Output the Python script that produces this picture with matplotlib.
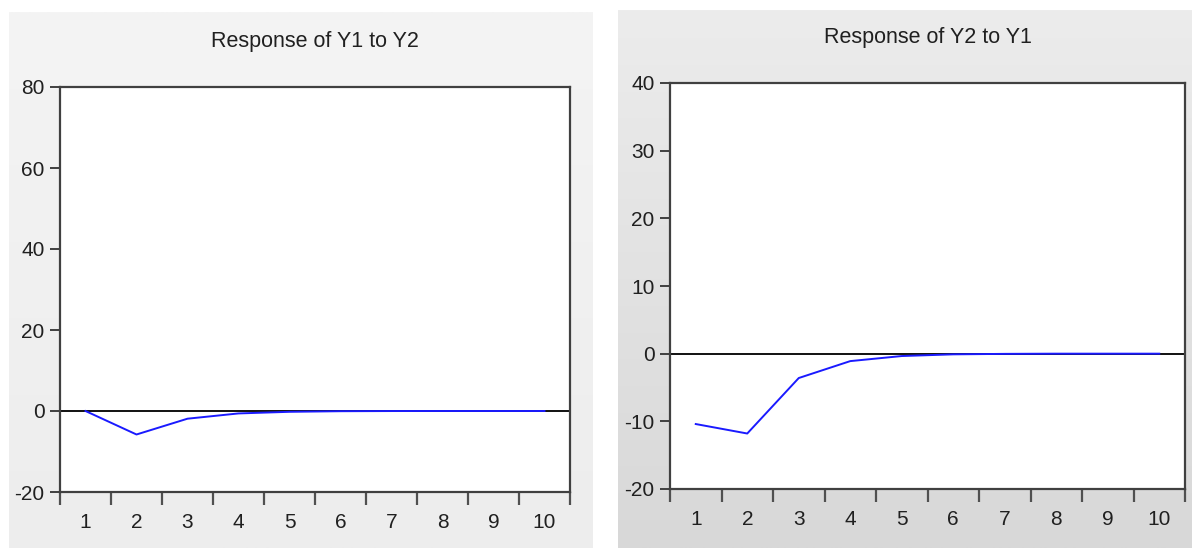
import numpy as np
import matplotlib
matplotlib.use("Agg")
import matplotlib.pyplot as plt
from matplotlib import font_manager

periods = [1, 2, 3, 4, 5, 6, 7, 8, 9, 10]
y1_to_y2 = [0.0, -5.8, -1.9, -0.6, -0.2, -0.05, -0.01, 0.0, 0.0, 0.0]
y2_to_y1 = [-10.4, -11.8, -3.6, -1.1, -0.35, -0.1, -0.03, 0.0, 0.0, 0.0]
titles = ["Response of Y1 to Y2", "Response of Y2 to Y1"]
yticks_left = [-20, 0, 20, 40, 60, 80]
yticks_right = [-20, -10, 0, 10, 20, 30, 40]

names = {f.name for f in font_manager.fontManager.ttflist}
fam = ["Liberation Sans Narrow", "Liberation Sans", "DejaVu Sans"]
fam = [f for f in fam if f in names] or ["DejaVu Sans"]
plt.rcParams['font.family'] = fam

W, H = 1192, 548
fig = plt.figure(figsize=(W / 100, H / 100), dpi=100)
fig.patch.set_facecolor("white")


def px_rect(x0, y0, x1, y1):
    return [x0 / W, 1 - y1 / H, (x1 - x0) / W, (y1 - y0) / H]


def panel_bg(rect, top, bottom):
    ax = fig.add_axes(px_rect(*rect), zorder=0)
    grad = np.linspace(0, 1, 256)[:, None]
    c0 = np.array(matplotlib.colors.to_rgb(top))
    c1 = np.array(matplotlib.colors.to_rgb(bottom))
    img = c0[None, None, :] * (1 - grad[:, :, None]) + c1[None, None, :] * grad[:, :, None]
    ax.imshow(img, aspect="auto", extent=[0, 1, 0, 1], origin="upper")
    ax.set_axis_off()


panel_bg((9, 12, 593, 548), "#f4f4f4", "#ededed")
panel_bg((618, 10, 1192, 548), "#ececec", "#d8d8d8")

specs = [
    (px_rect(60, 87, 570, 492), y1_to_y2, yticks_left, (-20, 80), titles[0], 41),
    (px_rect(670, 83, 1185, 489), y2_to_y1, yticks_right, (-20, 40), titles[1], 37),
]

for rect, vals, yt, ylim, title, ty in specs:
    ax = fig.add_axes(rect, zorder=2)
    ax.set_facecolor("white")
    ax.axhline(0, color="#101010", lw=1.4, zorder=2)
    ax.plot(periods, vals, color="#1a1aff", lw=1.4, zorder=3)
    ax.set_xlim(0.5, 10.5)
    ax.set_ylim(*ylim)
    ax.set_yticks(yt)
    ax.set_yticklabels([str(v) for v in yt])
    ax.set_xticks([p - 0.5 for p in periods] + [10.5])
    ax.set_xticklabels([])
    ax.set_xticks(periods, minor=True)
    ax.set_xticklabels([str(p) for p in periods], minor=True)
    ax.tick_params(axis="x", which="major", direction="out", length=9, width=1.6, color="#505050")
    ax.tick_params(axis="x", which="minor", length=0, pad=15, labelsize=15, labelcolor="#202020")
    ax.tick_params(axis="y", direction="out", length=7, width=1.4, color="#404040", pad=4,
                   labelsize=15, labelcolor="#202020")
    for s in ax.spines.values():
        s.set_color("#404040")
        s.set_linewidth(1.6)
    cx = (rect[0] + rect[2] / 2)
    fig.text(cx, 1 - ty / H, title, ha="center", va="center", fontsize=15.5, color="#202020")

fig.savefig("out.png", dpi=100, facecolor="white")
